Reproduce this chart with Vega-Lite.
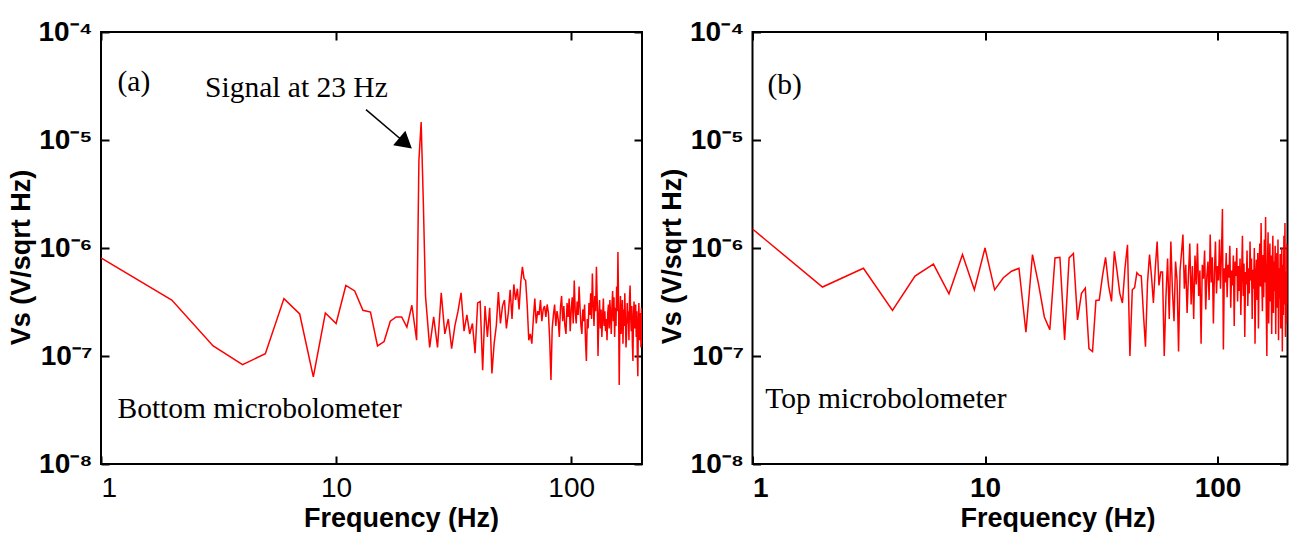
{
  "$schema": "https://vega.github.io/schema/vega-lite/v6.json",
  "padding": {"left": 6, "top": 17, "right": 2, "bottom": 0},
  "background": "white",
  "spacing": 14.5,
  "config": {
    "view": {"stroke": "black", "strokeWidth": 2},
    "axis": {"domain": false, "ticks": false, "grid": true, "gridColor": "black", "gridWidth": 2, "gridOpacity": 1, "labelColor": "black", "titleColor": "black", "labelFont": "Liberation Sans", "titleFont": "Liberation Sans"}
  },
  "datasets": {
    "a": [
      {"f":1,"v":8.1e-7},{"f":2,"v":3.3e-7},{"f":3,"v":1.24e-7},{"f":4,"v":8.3e-8},{"f":5,"v":1.05e-7},{"f":6,"v":3.4e-7},{"f":7,"v":2.45e-7},{"f":8,"v":6.4e-8},{"f":9,"v":2.5e-7},{"f":10,"v":2.0e-7},
      {"f":11,"v":4.5e-7},{"f":12,"v":4.0e-7},{"f":13,"v":2.65e-7},{"f":14,"v":2.55e-7},{"f":15,"v":1.24e-7},{"f":16,"v":1.36e-7},{"f":17,"v":2.1e-7},{"f":18,"v":2.3e-7},{"f":19,"v":2.3e-7},{"f":20,"v":1.85e-7},
      {"f":21,"v":2.95e-7},{"f":22,"v":1.4e-7},{"f":22.5,"v":6.5e-6},{"f":23,"v":1.47e-5},{"f":23.5,"v":2.6e-6},{"f":24,"v":3.6e-7},{"f":25,"v":1.2e-7},{"f":26,"v":2.3e-7},{"f":27,"v":1.2e-7},{"f":28,"v":3.85e-7},{"f":29,"v":1.6e-7},{"f":30,"v":2.2e-7},
      {"f":31,"v":1.17e-7},{"f":32,"v":1.9e-7},{"f":33,"v":2.6e-7},{"f":34,"v":3.85e-7},{"f":35,"v":1.7e-7},{"f":36,"v":2.4e-7},{"f":37,"v":1.6e-7},{"f":38,"v":2.0e-7},{"f":39,"v":1.06e-7},{"f":40,"v":3.1e-7},
      {"f":41,"v":3.2e-7},{"f":42,"v":7.4e-8},{"f":43,"v":2.9e-7},{"f":44,"v":1.5e-7},{"f":45,"v":2.8e-7},{"f":46,"v":6.9e-8},{"f":47,"v":1.3e-7},{"f":48,"v":1.9e-7},{"f":49,"v":3.9e-7},{"f":50,"v":2.0e-7},
      {"f":51,"v":2.9e-7},{"f":52,"v":3.3e-7},{"f":53,"v":1.8e-7},{"f":54,"v":2.5e-7},{"f":55,"v":4.1e-7},{"f":56,"v":2.2e-7},{"f":57,"v":4.6e-7},{"f":58,"v":3.3e-7},{"f":59,"v":4.2e-7},{"f":60,"v":2.7e-7},
      {"f":61,"v":4.8e-7},{"f":62,"v":6.7e-7},{"f":63,"v":5.2e-7},{"f":64,"v":5.0e-7},{"f":65,"v":2.9e-7},{"f":66,"v":1.4e-7},{"f":67,"v":1.6e-7},{"f":68,"v":1.3e-7},{"f":69,"v":2.2e-7},{"f":70,"v":3.4e-7},
      {"f":71,"v":2.0e-7},{"f":72,"v":2.6e-7},{"f":73,"v":2.4e-7},{"f":74,"v":3.3e-7},{"f":75,"v":2.1e-7},{"f":76,"v":2.7e-7},{"f":77,"v":2.9e-7},{"f":78,"v":2.3e-7},{"f":79,"v":3.0e-7},{"f":80,"v":2.5e-7},
      {"f":81,"v":1.4e-7},{"f":82,"v":6.0e-8},{"f":83,"v":1.8e-7},{"f":84,"v":2.4e-7},{"f":85,"v":3.0e-7},{"f":86,"v":1.9e-7},{"f":87,"v":2.6e-7},{"f":88,"v":2.2e-7},{"f":89,"v":1.5e-7},{"f":90,"v":2.8e-7},
      {"f":91,"v":3.6e-7},{"f":92,"v":2.1e-7},{"f":93,"v":2.9e-7},{"f":94,"v":1.9e-7},{"f":95,"v":1.6e-7},{"f":96,"v":3.1e-7},{"f":97,"v":2.3e-7},{"f":98,"v":3.4e-7},{"f":99,"v":1.7e-7},{"f":100,"v":2.7e-7},
      {"f":101,"v":3.5e-7},{"f":102,"v":2.0e-7},{"f":103,"v":5.0e-7},{"f":104,"v":2.6e-7},{"f":105,"v":2.0e-7},{"f":106,"v":3.2e-7},{"f":107,"v":2.4e-7},{"f":108,"v":4.4e-7},{"f":109,"v":2.8e-7},{"f":110,"v":1.9e-7},
      {"f":111,"v":1.6e-7},{"f":112,"v":2.7e-7},{"f":113,"v":2.1e-7},{"f":114,"v":3.0e-7},{"f":115,"v":1.4e-7},{"f":116,"v":9.0e-8},{"f":117,"v":2.2e-7},{"f":118,"v":1.8e-7},{"f":119,"v":3.1e-7},{"f":120,"v":2.4e-7},
      {"f":121,"v":3.8e-7},{"f":122,"v":2.2e-7},{"f":123,"v":5.8e-7},{"f":124,"v":3.0e-7},{"f":125,"v":1.9e-7},{"f":126,"v":3.6e-7},{"f":127,"v":2.6e-7},{"f":128,"v":6.7e-7},{"f":129,"v":3.2e-7},{"f":130,"v":1.0e-7},
      {"f":131,"v":2.4e-7},{"f":132,"v":3.3e-7},{"f":133,"v":1.8e-7},{"f":134,"v":2.7e-7},{"f":135,"v":1.5e-7},{"f":136,"v":2.3e-7},{"f":137,"v":3.4e-7},{"f":138,"v":1.9e-7},{"f":139,"v":2.6e-7},{"f":140,"v":1.7e-7},
      {"f":141,"v":2.2e-7},{"f":142,"v":1.4e-7},{"f":143,"v":2.5e-7},{"f":144,"v":3.0e-7},{"f":145,"v":1.8e-7},{"f":146,"v":3.3e-7},{"f":147,"v":2.4e-7},{"f":148,"v":1.6e-7},{"f":149,"v":2.9e-7},{"f":150,"v":4.0e-7},
      {"f":151,"v":2.1e-7},{"f":152,"v":3.5e-7},{"f":153,"v":1.5e-7},{"f":154,"v":2.8e-7},{"f":155,"v":1.9e-7},{"f":156,"v":4.4e-7},{"f":157,"v":2.6e-7},{"f":158,"v":9.2e-7},{"f":159,"v":3.0e-7},{"f":160,"v":5.4e-8},
      {"f":161,"v":2.0e-7},{"f":162,"v":3.6e-7},{"f":163,"v":1.6e-7},{"f":164,"v":2.5e-7},{"f":165,"v":3.3e-7},{"f":166,"v":1.3e-7},{"f":167,"v":2.7e-7},{"f":168,"v":1.9e-7},{"f":169,"v":3.8e-7},{"f":170,"v":2.2e-7},
      {"f":171,"v":1.2e-7},{"f":172,"v":1.6e-7},{"f":173,"v":3.1e-7},{"f":174,"v":2.0e-7},{"f":175,"v":2.6e-7},{"f":176,"v":1.4e-7},{"f":177,"v":3.4e-7},{"f":178,"v":4.5e-7},{"f":179,"v":2.3e-7},{"f":180,"v":1.7e-7},
      {"f":181,"v":2.9e-7},{"f":182,"v":1.3e-7},{"f":183,"v":9.0e-8},{"f":184,"v":2.4e-7},{"f":185,"v":3.2e-7},{"f":186,"v":1.8e-7},{"f":187,"v":2.1e-7},{"f":188,"v":3.0e-7},{"f":189,"v":1.5e-7},{"f":190,"v":2.6e-7},
      {"f":191,"v":1.1e-7},{"f":192,"v":6.5e-8},{"f":193,"v":2.2e-7},{"f":194,"v":3.1e-7},{"f":195,"v":1.4e-7},{"f":196,"v":2.0e-7},{"f":197,"v":2.5e-7},{"f":198,"v":1.2e-7},{"f":199,"v":2.8e-7},{"f":200,"v":1.3e-7}
    ],
    "b": [
      {"f":1,"v":1.5e-6},{"f":2,"v":4.35e-7},{"f":3,"v":6.5e-7},{"f":4,"v":2.64e-7},{"f":5,"v":5.5e-7},{"f":6,"v":7.1e-7},{"f":7,"v":3.77e-7},{"f":8,"v":8.7e-7},{"f":9,"v":4.1e-7},{"f":10,"v":1.0e-6},
      {"f":11,"v":4.1e-7},{"f":12,"v":5.3e-7},{"f":13,"v":6.1e-7},{"f":14,"v":6.5e-7},{"f":15,"v":1.66e-7},{"f":16,"v":8.7e-7},{"f":17,"v":4.6e-7},{"f":18,"v":2.3e-7},{"f":19,"v":1.75e-7},{"f":20,"v":8.1e-7},
      {"f":21,"v":8.2e-7},{"f":22,"v":1.41e-7},{"f":23,"v":8.1e-7},{"f":24,"v":8.9e-7},{"f":25,"v":2.16e-7},{"f":26,"v":3.8e-7},{"f":27,"v":4.25e-7},{"f":28,"v":1.17e-7},{"f":29,"v":1.1e-7},{"f":30,"v":3.27e-7},
      {"f":31,"v":3.3e-7},{"f":32,"v":5.5e-7},{"f":33,"v":8.2e-7},{"f":34,"v":4.5e-7},{"f":35,"v":3.2e-7},{"f":36,"v":9.3e-7},{"f":37,"v":6.0e-7},{"f":38,"v":3.8e-7},{"f":39,"v":3.1e-7},{"f":40,"v":6.5e-7},
      {"f":41,"v":1.07e-6},{"f":42,"v":1.0e-7},{"f":43,"v":4.1e-7},{"f":44,"v":4.3e-7},{"f":45,"v":5.9e-7},{"f":46,"v":5.6e-7},{"f":47,"v":5.5e-7},{"f":48,"v":2.5e-7},{"f":49,"v":1.22e-7},{"f":50,"v":4.8e-7},
      {"f":51,"v":8.7e-7},{"f":52,"v":5.5e-7},{"f":53,"v":3.1e-7},{"f":54,"v":6.5e-7},{"f":55,"v":1.15e-6},{"f":56,"v":4.5e-7},{"f":57,"v":6.0e-7},{"f":58,"v":6.0e-7},{"f":59,"v":1.0e-7},{"f":60,"v":3.5e-7},
      {"f":61,"v":8.0e-7},{"f":62,"v":2.2e-7},{"f":63,"v":1.15e-6},{"f":64,"v":4.0e-7},{"f":65,"v":2.1e-7},{"f":66,"v":7.5e-7},{"f":67,"v":5.0e-7},{"f":68,"v":1.1e-7},{"f":69,"v":6.2e-7},{"f":70,"v":9.0e-7},
      {"f":71,"v":1.33e-6},{"f":72,"v":4.2e-7},{"f":73,"v":7.0e-7},{"f":74,"v":2.5e-7},{"f":75,"v":5.6e-7},{"f":76,"v":1.1e-6},{"f":77,"v":3.0e-7},{"f":78,"v":6.8e-7},{"f":79,"v":2.2e-7},{"f":80,"v":8.5e-7},
      {"f":81,"v":4.6e-7},{"f":82,"v":1.1e-6},{"f":83,"v":3.6e-7},{"f":84,"v":6.2e-7},{"f":85,"v":1.3e-7},{"f":86,"v":7.0e-7},{"f":87,"v":5.2e-7},{"f":88,"v":9.5e-7},{"f":89,"v":2.7e-7},{"f":90,"v":5.5e-7},
      {"f":91,"v":7.5e-7},{"f":92,"v":3.3e-7},{"f":93,"v":1.33e-6},{"f":94,"v":4.8e-7},{"f":95,"v":8.2e-7},{"f":96,"v":2.0e-7},{"f":97,"v":6.0e-7},{"f":98,"v":1.15e-6},{"f":99,"v":3.8e-7},{"f":100,"v":6.8e-7},
      {"f":101,"v":5.0e-7},{"f":102,"v":1.2e-6},{"f":103,"v":4.2e-7},{"f":104,"v":8.8e-7},{"f":105,"v":2.3e-6},{"f":106,"v":1.15e-7},{"f":107,"v":6.5e-7},{"f":108,"v":4.8e-7},{"f":109,"v":9.0e-7},{"f":110,"v":3.5e-7},
      {"f":111,"v":7.0e-7},{"f":112,"v":5.3e-7},{"f":113,"v":1.05e-6},{"f":114,"v":2.8e-7},{"f":115,"v":6.2e-7},{"f":116,"v":4.5e-7},{"f":117,"v":8.5e-7},{"f":118,"v":1.9e-7},{"f":119,"v":7.5e-7},{"f":120,"v":5.5e-7},
      {"f":121,"v":1.0e-6},{"f":122,"v":3.2e-7},{"f":123,"v":6.8e-7},{"f":124,"v":4.0e-7},{"f":125,"v":8.0e-7},{"f":126,"v":2.4e-7},{"f":127,"v":5.8e-7},{"f":128,"v":1.3e-6},{"f":129,"v":3.6e-7},{"f":130,"v":7.2e-7},
      {"f":131,"v":1.5e-7},{"f":132,"v":6.0e-7},{"f":133,"v":4.6e-7},{"f":134,"v":9.5e-7},{"f":135,"v":2.9e-7},{"f":136,"v":6.5e-7},{"f":137,"v":3.8e-7},{"f":138,"v":1.15e-6},{"f":139,"v":5.0e-7},{"f":140,"v":8.0e-7},
      {"f":141,"v":2.2e-7},{"f":142,"v":6.3e-7},{"f":143,"v":4.2e-7},{"f":144,"v":1.0e-6},{"f":145,"v":1.3e-7},{"f":146,"v":5.5e-7},{"f":147,"v":7.8e-7},{"f":148,"v":3.3e-7},{"f":149,"v":9.0e-7},{"f":150,"v":1.8e-7},
      {"f":151,"v":6.8e-7},{"f":152,"v":1.1e-6},{"f":153,"v":4.4e-7},{"f":154,"v":1.7e-6},{"f":155,"v":5.2e-7},{"f":156,"v":2.6e-7},{"f":157,"v":8.6e-7},{"f":158,"v":3.5e-7},{"f":159,"v":1.2e-6},{"f":160,"v":4.8e-7},
      {"f":161,"v":1.94e-6},{"f":162,"v":3.0e-7},{"f":163,"v":1.0e-7},{"f":164,"v":7.0e-7},{"f":165,"v":1.4e-6},{"f":166,"v":2.0e-7},{"f":167,"v":5.5e-7},{"f":168,"v":1.1e-6},{"f":169,"v":3.2e-7},{"f":170,"v":8.5e-7},
      {"f":171,"v":1.6e-7},{"f":172,"v":6.0e-7},{"f":173,"v":1.3e-6},{"f":174,"v":2.5e-7},{"f":175,"v":7.5e-7},{"f":176,"v":4.0e-7},{"f":177,"v":1.05e-6},{"f":178,"v":1.6e-7},{"f":179,"v":5.8e-7},{"f":180,"v":9.0e-7},
      {"f":181,"v":2.8e-7},{"f":182,"v":1.2e-6},{"f":183,"v":1.4e-7},{"f":184,"v":6.5e-7},{"f":185,"v":3.4e-7},{"f":186,"v":8.8e-7},{"f":187,"v":1.8e-7},{"f":188,"v":5.0e-7},{"f":189,"v":1.0e-6},{"f":190,"v":1.1e-7},
      {"f":191,"v":7.0e-7},{"f":192,"v":2.4e-7},{"f":193,"v":1.3e-6},{"f":194,"v":3.0e-7},{"f":195,"v":1.7e-6},{"f":196,"v":1.5e-7},{"f":197,"v":6.0e-7},{"f":198,"v":2.0e-7},{"f":199,"v":1.1e-6},{"f":200,"v":3.0e-7}
    ],
    "labelsA": [
      {"f":1.175,"v":2.83e-5,"t":"(a)"},
      {"f":2.77,"v":2.49e-5,"t":"Signal at 23 Hz"},
      {"f":1.175,"v":2.67e-8,"t":"Bottom microbolometer"}
    ],
    "labelsB": [
      {"f":1.16,"v":2.65e-5,"t":"(b)"},
      {"f":1.135,"v":3.27e-8,"t":"Top microbolometer"}
    ],
    "arrow": [
      {"f":13.4,"v":1.91e-5,"f2":19.74,"v2":9.32e-6}
    ]
  },
  "hconcat": [
    {
      "width": 541,
      "height": 432,
      "layer": [
        {
          "data": {"name": "a"},
          "mark": {"type": "line", "color": "#ff0000", "strokeWidth": 1.5, "clip": true},
          "encoding": {
            "x": {"field": "f", "type": "quantitative", "scale": {"type": "log", "domain": [1, 200], "nice": false},
              "axis": {"orient": "bottom", "values": [1, 10, 100], "gridDash": [8, 416, 8, 2000], "labelExpr": "format(datum.value, 'd')", "labelFontSize": 28, "labelFontWeight": "normal", "labelPadding": 10, "title": "Frequency (Hz)", "titleFontSize": 27, "titleFontWeight": "bold", "titlePadding": 3, "titleX": 300, "titleAlign": "center"}},
            "y": {"field": "v", "type": "quantitative", "scale": {"type": "log", "domain": [1e-8, 1e-4], "nice": false},
              "axis": {"orient": "left", "values": [1e-8, 1e-7, 1e-6, 1e-5, 1e-4], "gridDash": [8, 525, 8, 2000], "labelExpr": "'10⁻' + ['⁰','¹','²','³','⁴','⁵','⁶','⁷','⁸','⁹'][-round(log(datum.value)/LN10)]", "labelFontSize": 28, "labelFontWeight": "bold", "labelPadding": 9, "title": "Vs (V/sqrt Hz)", "titleFontSize": 27, "titleFontWeight": "bold", "titlePadding": 3, "titleY": 225, "titleAlign": "center"}}
          }
        },
        {
          "data": {"name": "labelsA"},
          "mark": {"type": "text", "align": "left", "baseline": "alphabetic", "font": "Liberation Serif", "fontSize": 29.5, "color": "black"},
          "encoding": {
            "x": {"field": "f", "type": "quantitative"},
            "y": {"field": "v", "type": "quantitative"},
            "text": {"field": "t"}
          }
        },
        {
          "data": {"name": "arrow"},
          "mark": {"type": "rule", "color": "black", "strokeWidth": 1.5},
          "encoding": {
            "x": {"field": "f", "type": "quantitative"},
            "y": {"field": "v", "type": "quantitative"},
            "x2": {"field": "f2"},
            "y2": {"field": "v2"}
          }
        },
        {
          "data": {"name": "arrow"},
          "mark": {"type": "point", "shape": "triangle-up", "filled": true, "color": "black", "opacity": 1, "size": 360, "angle": 130},
          "encoding": {
            "x": {"field": "f2", "type": "quantitative"},
            "y": {"field": "v2", "type": "quantitative"}
          }
        }
      ]
    },
    {
      "width": 535,
      "height": 432,
      "layer": [
        {
          "data": {"name": "b"},
          "mark": {"type": "line", "color": "#ff0000", "strokeWidth": 1.5, "clip": true},
          "encoding": {
            "x": {"field": "f", "type": "quantitative", "scale": {"type": "log", "domain": [1, 200], "nice": false},
              "axis": {"orient": "bottom", "values": [1, 10, 100], "gridDash": [8, 416, 8, 2000], "labelExpr": "format(datum.value, 'd')", "labelFontSize": 28, "labelFontWeight": "bold", "labelPadding": 10, "title": "Frequency (Hz)", "titleFontSize": 27, "titleFontWeight": "bold", "titlePadding": 3, "titleX": 305, "titleAlign": "center"}},
            "y": {"field": "v", "type": "quantitative", "scale": {"type": "log", "domain": [1e-8, 1e-4], "nice": false},
              "axis": {"orient": "left", "values": [1e-8, 1e-7, 1e-6, 1e-5, 1e-4], "gridDash": [8, 519, 8, 2000], "labelExpr": "'10⁻' + ['⁰','¹','²','³','⁴','⁵','⁶','⁷','⁸','⁹'][-round(log(datum.value)/LN10)]", "labelFontSize": 28, "labelFontWeight": "bold", "labelPadding": 9, "title": "Vs (V/sqrt Hz)", "titleFontSize": 27, "titleFontWeight": "bold", "titlePadding": 3, "titleY": 224, "titleAlign": "center"}}
          }
        },
        {
          "data": {"name": "labelsB"},
          "mark": {"type": "text", "align": "left", "baseline": "alphabetic", "font": "Liberation Serif", "fontSize": 29.5, "color": "black"},
          "encoding": {
            "x": {"field": "f", "type": "quantitative"},
            "y": {"field": "v", "type": "quantitative"},
            "text": {"field": "t"}
          }
        }
      ]
    }
  ]
}
